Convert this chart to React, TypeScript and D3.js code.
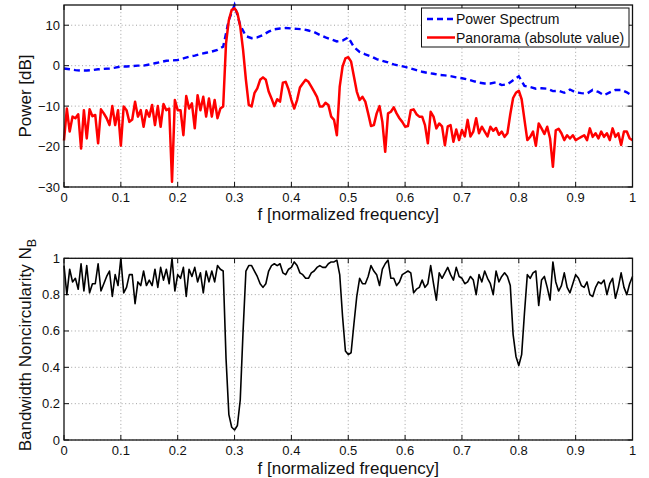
import * as d3 from "d3";

// frequency grid of the two noisy curves (normalized frequency 0..1, step 0.005)
const FINE_STEP = 0.005;
// frequency grid of the smooth power spectrum (step 0.01)
const COARSE_STEP = 0.01;

// Panorama (absolute value), dB
const panorama = [
  -18.5, -10.6, -16.3, -12.6, -13.0, -12.0, -20.5, -11.0, -18.0, -10.8,
  -12.5, -12.2, -19.2, -10.8, -11.8, -13.0, -14.7, -10.0, -14.7, -11.0,
  -19.8, -10.1, -11.0, -13.9, -13.3, -8.9, -12.6, -11.0, -15.1, -11.0,
  -12.6, -9.7, -14.7, -10.0, -15.1, -9.5, -11.0, -10.6, -28.7, -8.5,
  -11.0, -11.0, -17.2, -7.5, -10.6, -9.3, -15.5, -7.3, -11.0, -7.7,
  -12.6, -8.1, -12.6, -8.5, -13.0, -10.6, -10.1, 5.5, 11.3, 13.8,
  14.2, 13.0, 9.7, 3.9, -3.5, -9.7, -10.1, -6.8, -5.6, -3.5,
  -2.9, -3.5, -6.4, -8.1, -10.0, -8.3, -8.9, -4.2, -4.0, -5.9,
  -8.5, -10.6, -8.5, -5.4, -4.4, -3.5, -4.0, -5.2, -6.4, -7.7,
  -10.1, -10.1, -9.2, -9.7, -12.6, -13.4, -17.2, -5.2, -0.2, 1.8,
  2.1, 1.0, -2.7, -6.4, -8.5, -7.7, -8.9, -11.8, -14.9, -14.7,
  -11.8, -10.0, -13.9, -21.3, -11.8, -11.4, -10.3, -11.8, -13.0, -13.9,
  -15.1, -14.9, -11.0, -10.8, -12.0, -12.6, -12.6, -14.7, -19.2, -11.4,
  -12.6, -15.5, -14.3, -15.0, -19.7, -15.0, -14.7, -18.8, -15.8, -18.4,
  -15.9, -17.5, -13.4, -17.5, -16.3, -13.0, -16.7, -15.1, -16.3, -17.5,
  -15.1, -16.1, -15.4, -17.1, -16.3, -17.6, -16.7, -12.0, -8.0, -6.7,
  -6.2, -8.3, -13.4, -18.4, -17.6, -16.3, -19.8, -14.3, -15.5, -16.9,
  -15.1, -18.0, -25.0, -16.0, -15.6, -16.7, -18.4, -17.2, -18.0, -17.2,
  -18.4, -18.0, -17.6, -17.2, -18.4, -15.5, -17.6, -16.7, -18.0, -16.3,
  -17.6, -16.7, -18.4, -15.5, -17.6, -16.7, -19.6, -16.3, -16.3, -18.0,
  -18.4,
];

// Power spectrum, dB
const powerSpectrum = [
  -0.7, -0.9, -1.1, -1.2, -1.2, -1.1, -0.9, -0.8, -0.7, -0.5,
  -0.2, -0.2, -0.1, 0.0, 0.0, 0.3, 0.6, 0.9, 1.2, 1.3,
  1.4, 1.8, 2.2, 2.5, 2.9, 3.2, 3.5, 3.9, 4.7, 11.3,
  15.0, 10.0, 7.3, 6.8, 7.0, 7.6, 8.4, 9.0, 9.2, 9.3,
  9.2, 9.1, 9.0, 8.7, 8.3, 7.6, 7.0, 6.5, 6.0, 6.2,
  7.0, 4.6, 3.4, 2.8, 2.3, 1.6, 1.2, 0.8, 0.3, 0.0,
  -0.3, -0.7, -1.1, -1.5, -1.8, -2.0, -2.3, -2.4, -2.6, -2.9,
  -3.1, -3.4, -3.8, -4.2, -4.4, -4.4, -4.1, -4.8, -4.6, -3.6,
  -2.6, -5.0, -5.3, -5.7, -5.6, -5.7, -6.3, -6.2, -6.7, -5.9,
  -6.6, -6.8, -6.9, -6.0, -6.5, -7.3, -6.6, -6.0, -6.0, -6.6,
  -7.5,
];

// Bandwidth noncircularity N_B
const noncircularity = [
  0.96, 0.80, 0.94, 0.87, 0.89, 0.83, 0.97, 0.82, 0.96, 0.81,
  0.86, 0.86, 0.97, 0.82, 0.86, 0.90, 0.93, 0.79, 0.91, 0.85,
  1.0, 0.81, 0.84, 0.91, 0.91, 0.75, 0.87, 0.85, 0.93, 0.85,
  0.88, 0.85, 0.94, 0.84, 0.95, 0.88, 0.94, 0.86, 1.0, 0.82,
  0.91, 0.89, 0.95, 0.79, 0.94, 0.90, 0.95, 0.87, 0.92, 0.81,
  0.93, 0.87, 0.93, 0.87, 0.96, 0.94, 0.93, 0.45, 0.14, 0.07,
  0.055, 0.08, 0.22, 0.60, 0.93, 0.96, 0.96, 0.93, 0.90, 0.86,
  0.84, 0.86, 0.93, 0.96, 0.97, 0.96, 0.97, 0.92, 0.91, 0.94,
  0.95, 0.98, 0.96, 0.92, 0.91, 0.89, 0.89, 0.92, 0.93, 0.95,
  0.96, 0.95, 0.95, 0.97, 0.98, 0.98, 0.99, 0.91, 0.68, 0.49,
  0.47, 0.48, 0.64, 0.79, 0.89, 0.86, 0.86, 0.90, 0.96, 0.93,
  0.91, 0.85, 0.94, 0.97, 0.99, 0.89, 0.89, 0.85, 0.87, 0.91,
  0.92, 0.93, 0.92, 0.81, 0.83, 0.84, 0.88, 0.84, 0.86, 0.96,
  0.86, 0.77, 0.92, 0.89, 0.92, 0.95, 0.91, 0.88, 0.95, 0.90,
  0.89, 0.86, 0.87, 0.90, 0.88, 0.80, 0.91, 0.87, 0.93, 0.89,
  0.86, 0.80, 0.93, 0.87, 0.90, 0.92, 0.90, 0.85, 0.58, 0.46,
  0.41, 0.47, 0.70, 0.91, 0.89, 0.92, 0.93, 0.74, 0.88, 0.90,
  0.84, 0.77, 0.98, 0.87, 0.82, 0.85, 0.92, 0.84, 0.81, 0.86,
  0.91, 0.89, 0.85, 0.84, 0.87, 0.80, 0.79, 0.84, 0.87, 0.86,
  0.88, 0.80, 0.86, 0.89, 0.78, 0.84, 0.92, 0.84, 0.80, 0.86,
  0.90,
];

const xTicks = [0, 0.1, 0.2, 0.3, 0.4, 0.5, 0.6, 0.7, 0.8, 0.9, 1];
const xTickLabels = ["0", "0.1", "0.2", "0.3", "0.4", "0.5", "0.6", "0.7", "0.8", "0.9", "1"];
const dbTicks = [-30, -20, -10, 0, 10];
const dbTickLabels = ["\u221230", "\u221220", "\u221210", "0", "10"];
const nbTicks = [0, 0.2, 0.4, 0.6, 0.8, 1];
const nbTickLabels = ["0", "0.2", "0.4", "0.6", "0.8", "1"];

const legendItems = ["Power Spectrum", "Panorama (absolute value)"];

const W = 649;
const H = 478;
const FONT = "'Liberation Sans', Arial, Helvetica, sans-serif";
const LEFT = 64;
const RIGHT = 632.5;

const x = d3.scaleLinear().domain([0, 1]).range([LEFT, RIGHT]);
const yTop = d3.scaleLinear().domain([-30, 15]).range([187, 5]);
const yBot = d3.scaleLinear().domain([0, 1]).range([440, 258.3]);

type Pt = [number, number];
const fine = (vals: number[]): Pt[] => vals.map((v, i) => [i * FINE_STEP, v]);
const coarse = (vals: number[]): Pt[] => vals.map((v, i) => [i * COARSE_STEP, v]);

function Frame({ y, ticks, labels }: { y: d3.ScaleLinear<number, number>; ticks: number[]; labels: string[] }) {
  const [y0, y1] = y.range();
  const tk = 5;
  return (
    <g>
      {/* grid */}
      <g stroke="#8a8a8a" strokeWidth={0.8} strokeDasharray="1,2.6">
        {xTicks.slice(1, -1).map((t) => (
          <line key={"gx" + t} x1={x(t)} x2={x(t)} y1={y1} y2={y0} />
        ))}
        {ticks.map((t) => (
          <line key={"gy" + t} x1={LEFT} x2={RIGHT} y1={y(t)} y2={y(t)} />
        ))}
      </g>
      {/* tick marks, inward on all four sides */}
      <g stroke="#111" strokeWidth={1}>
        {xTicks.map((t) => (
          <g key={"tx" + t}>
            <line x1={x(t)} x2={x(t)} y1={y0} y2={y0 - tk} />
            <line x1={x(t)} x2={x(t)} y1={y1} y2={y1 + tk} />
          </g>
        ))}
        {ticks.map((t) => (
          <g key={"ty" + t}>
            <line x1={LEFT} x2={LEFT + tk} y1={y(t)} y2={y(t)} />
            <line x1={RIGHT} x2={RIGHT - tk} y1={y(t)} y2={y(t)} />
          </g>
        ))}
      </g>
      <g fontFamily={FONT} fontSize={13} fill="#111">
        {xTicks.map((t, i) => (
          <text key={"lx" + t} x={x(t)} y={y0 + 14.5} textAnchor="middle">
            {xTickLabels[i]}
          </text>
        ))}
        {ticks.map((t, i) => (
          <text key={"ly" + t} x={LEFT - 4} y={y(t) + 4.5} textAnchor="end">
            {labels[i]}
          </text>
        ))}
      </g>
    </g>
  );
}

function Box({ y }: { y: d3.ScaleLinear<number, number> }) {
  const [y0, y1] = y.range();
  return <rect x={LEFT} y={y1} width={RIGHT - LEFT} height={y0 - y1} fill="none" stroke="#111" strokeWidth={1.3} />;
}

export default function App() {
  const lineTop = d3
    .line<Pt>()
    .x((d) => x(d[0]))
    .y((d) => yTop(d[1]));
  const lineBot = d3
    .line<Pt>()
    .x((d) => x(d[0]))
    .y((d) => yBot(d[1]));

  const [tb, tt] = yTop.range();
  const [bb, bt] = yBot.range();

  return (
    <svg
      width={W}
      height={H}
      viewBox={`0 0 ${W} ${H}`}
      style={{ position: "absolute", left: 0, top: 0, background: "#fff" }}
    >
      <rect width={W} height={H} fill="#fff" />

      {/* upper panel */}
      <Frame y={yTop} ticks={dbTicks} labels={dbTickLabels} />
      <path
        d={lineTop(coarse(powerSpectrum)) || ""}
        fill="none"
        stroke="#0000ff"
        strokeWidth={2.4}
        strokeDasharray="6,4"
      />
      <path d={lineTop(fine(panorama)) || ""} fill="none" stroke="#ff0000" strokeWidth={2.5} strokeLinejoin="round" />
      <Box y={yTop} />

      {/* legend */}
      <g fontFamily={FONT} fontSize={14} fill="#111">
        <rect x={421.5} y={8} width={207.5} height={39} fill="#fff" stroke="#111" strokeWidth={1} />
        <line x1={427} x2={455} y1={19} y2={19} stroke="#0000ff" strokeWidth={2.4} strokeDasharray="6,4" />
        <line x1={427} x2={455} y1={37.5} y2={37.5} stroke="#ff0000" strokeWidth={2.5} />
        <text x={456} y={24}>{legendItems[0]}</text>
        <text x={456} y={42.5}>{legendItems[1]}</text>
      </g>

      <g fontFamily={FONT} fontSize={17} fill="#111">
        <text x={(LEFT + RIGHT) / 2} y={tb + 33} textAnchor="middle">
          f [normalized frequency]
        </text>
        <text transform={`translate(31,${(tb + tt) / 2}) rotate(-90)`} textAnchor="middle">
          Power [dB]
        </text>
      </g>

      {/* lower panel */}
      <Frame y={yBot} ticks={nbTicks} labels={nbTickLabels} />
      <path d={lineBot(fine(noncircularity)) || ""} fill="none" stroke="#000" strokeWidth={1.6} strokeLinejoin="round" />
      <Box y={yBot} />

      <g fontFamily={FONT} fontSize={17} fill="#111">
        <text x={(LEFT + RIGHT) / 2} y={bb + 33.5} textAnchor="middle">
          f [normalized frequency]
        </text>
        <text transform={`translate(31,${(bb + bt) / 2 - 4}) rotate(-90)`} textAnchor="middle">
          Bandwidth Noncircularity N
          <tspan fontSize={12.5} dy={5}>
            B
          </tspan>
        </text>
      </g>
    </svg>
  );
}
